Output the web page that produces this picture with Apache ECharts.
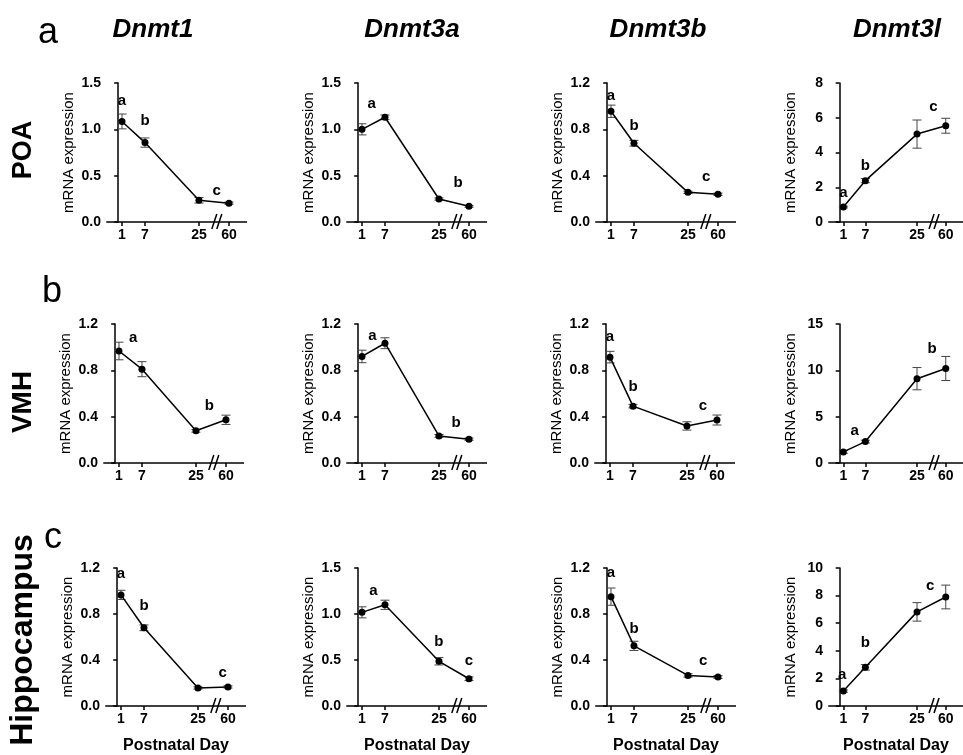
<!DOCTYPE html>
<html>
<head>
<meta charset="utf-8">
<script src="https://cdn.jsdelivr.net/npm/echarts@6/dist/echarts.min.js"></script>
<style>
  html, body { margin: 0; padding: 0; background: #fff; }
  #chart { width: 963px; height: 755px; }
</style>
</head>
<body>
<div id="chart"></div>
<script>
// postnatal days and panel labels
const days = [1, 7, 25, 60];
const genes = ['Dnmt1', 'Dnmt3a', 'Dnmt3b', 'Dnmt3l'];
const regions = ['POA', 'VMH', 'Hippocampus'];
const panelTags = ['a', 'b', 'c'];

// y axis max / step, one row per region
const yMax = [[1.5, 1.5, 1.2, 8], [1.2, 1.2, 1.2, 15], [1.2, 1.5, 1.2, 10]];
const yStep = [[0.5, 0.5, 0.4, 2], [0.4, 0.4, 0.4, 5], [0.4, 0.5, 0.4, 2]];

// mean mRNA expression (per gene, per day)
const poaMean = [[1.085, 0.857, 0.235, 0.203], [1.0, 1.13, 0.248, 0.169], [0.956, 0.68, 0.256, 0.239], [0.86, 2.38, 5.06, 5.54]];
const vmhMean = [[0.967, 0.81, 0.278, 0.373], [0.92, 1.034, 0.234, 0.206], [0.914, 0.491, 0.32, 0.371], [1.2, 2.31, 9.1, 10.2]];
const hipMean = [[0.966, 0.68, 0.157, 0.166], [1.018, 1.10, 0.486, 0.296], [0.951, 0.523, 0.266, 0.252], [1.08, 2.8, 6.82, 7.9]];

// SEM
const poaSem = [[0.08, 0.05, 0.03, 0.012], [0.06, 0.025, 0.012, 0.01], [0.053, 0.025, 0.01, 0.01], [0.05, 0.12, 0.81, 0.43]];
const vmhSem = [[0.076, 0.065, 0.012, 0.04], [0.054, 0.047, 0.012, 0.01], [0.05, 0.015, 0.036, 0.043], [0.15, 0.15, 1.2, 1.3]];
const hipSem = [[0.04, 0.025, 0.01, 0.01], [0.06, 0.05, 0.04, 0.02], [0.075, 0.04, 0.015, 0.012], [0.08, 0.2, 0.67, 0.86]];

// significance letters: [letter, day, value]
const poaSig = [
  [['a', 1, 1.31], ['b', 7, 1.09], ['c', 41, 0.34]],
  [['a', 3.5, 1.27], ['b', 44, 0.42]],
  [['a', 1, 1.09], ['b', 7, 0.83], ['c', 42, 0.39]],
  [['a', 1, 1.67], ['b', 7, 3.23], ['c', 40, 6.63]]
];
const vmhSig = [
  [['a', 4.7, 1.08], ['b', 32, 0.49]],
  [['a', 3.7, 1.1], ['b', 40, 0.35]],
  [['a', 1, 1.086], ['b', 7, 0.657], ['c', 37.5, 0.49]],
  [['a', 4.1, 3.5], ['b', 37, 12.3]]
];
const hipSig = [
  [['a', 1, 1.15], ['b', 7, 0.87], ['c', 56, 0.29]],
  [['a', 4, 1.25], ['b', 25, 0.70], ['c', 60, 0.49]],
  [['a', 1, 1.16], ['b', 7, 0.67], ['c', 36, 0.39]],
  [['a', 0.7, 2.27], ['b', 7, 4.55], ['c', 33, 8.73]]
];

const means = [poaMean, vmhMean, hipMean];
const sems = [poaSem, vmhSem, hipSem];
const sigs = [poaSig, vmhSig, hipSig];

const FONT = '"Liberation Sans", Arial, sans-serif';
const colLeft = [[107, 347, 596, 829], [104, 347, 595, 829], [106, 347, 596, 829]];
const rowTop = [83, 324, 568];
const gridW = 140, gridH = 139;
const xMin = -2.91, xMax = 64.7;
// visible break (25 -> 60) and a hidden squeeze between 7 and 25, as in the original axis
const squeeze = { start: 12, end: 18, gap: '5.7%' };
const cut = { start: 28, end: 59, gap: '10.5%' };

const chart = echarts.init(document.getElementById('chart'));

const grids = [], xAxes = [], yAxes = [], series = [];

regions.forEach((region, r) => {
  genes.forEach((gene, c) => {
    const i = r * 4 + c;
    grids.push({ left: colLeft[r][c], top: rowTop[r], width: gridW, height: gridH });
    xAxes.push({
      type: 'value', gridIndex: i, min: xMin, max: xMax,
      breaks: [squeeze, cut],
      breakArea: { show: false, itemStyle: { color: 'rgba(0,0,0,0)', borderColor: 'rgba(0,0,0,0)' } },
      axisLine: { show: false },
      axisTick: { show: true, customValues: days, length: 4, lineStyle: { color: '#000', width: 1.5 } },
      axisLabel: { customValues: days, color: '#000', fontWeight: 'bold', fontSize: 14, fontFamily: FONT, margin: 6 },
      splitLine: { show: false },
      name: r === 2 ? 'Postnatal Day' : '',
      nameLocation: 'middle', nameGap: 32,
      nameTextStyle: { color: '#000', fontWeight: 'bold', fontSize: 16, fontFamily: FONT }
    });
    const step = yStep[r][c];
    yAxes.push({
      type: 'value', gridIndex: i, min: 0, max: yMax[r][c], interval: step,
      axisLine: { show: true, lineStyle: { color: '#000', width: 1.5 } },
      axisTick: { show: true, length: 4, lineStyle: { color: '#000', width: 1.5 } },
      axisLabel: {
        color: '#000', fontWeight: 'bold', fontSize: 14, fontFamily: FONT, margin: 6,
        formatter: v => step < 1 ? v.toFixed(1) : String(v)
      },
      splitLine: { show: false },
      name: 'mRNA expression', nameLocation: 'middle', nameGap: 31,
      nameTextStyle: { color: '#000', fontSize: 15, fontFamily: FONT }
    });

    // x baseline, drawn unbroken across the squeeze
    series.push({
      type: 'custom', xAxisIndex: i, yAxisIndex: i, clip: false, z: 2, silent: true,
      data: [[xMin, xMax]],
      renderItem: (params, api) => {
        const a = api.coord([api.value(0), 0]);
        const b = api.coord([api.value(1), 0]);
        return { type: 'line', shape: { x1: a[0] - 0.75, y1: a[1], x2: b[0], y2: b[1] }, style: { stroke: '#000', lineWidth: 1.5 } };
      }
    });

    const m = means[r][c], s = sems[r][c];
    // error bars
    series.push({
      type: 'custom', xAxisIndex: i, yAxisIndex: i, clip: false, z: 3,
      data: days.map((d, k) => [d, m[k] - s[k], m[k] + s[k]]),
      encode: { x: 0, y: [1, 2] },
      renderItem: (params, api) => {
        const lo = api.coord([api.value(0), api.value(1)]);
        const hi = api.coord([api.value(0), api.value(2)]);
        const w = 4.5;
        const st = { stroke: '#444', lineWidth: 1 };
        return {
          type: 'group', children: [
            { type: 'line', shape: { x1: lo[0], y1: lo[1], x2: hi[0], y2: hi[1] }, style: st },
            { type: 'line', shape: { x1: lo[0] - w, y1: lo[1], x2: lo[0] + w, y2: lo[1] }, style: st },
            { type: 'line', shape: { x1: hi[0] - w, y1: hi[1], x2: hi[0] + w, y2: hi[1] }, style: st }
          ]
        };
      }
    });
    // mean line
    series.push({
      type: 'line', xAxisIndex: i, yAxisIndex: i, z: 4,
      data: days.map((d, k) => [d, m[k]]),
      symbol: 'circle', symbolSize: 7,
      itemStyle: { color: '#000' },
      lineStyle: { color: '#000', width: 1.5 },
      animation: false
    });
    // significance letters
    const sig = sigs[r][c];
    series.push({
      type: 'custom', xAxisIndex: i, yAxisIndex: i, clip: false, z: 5,
      data: sig.map(t => [t[1], t[2]]),
      renderItem: (params, api) => {
        const p = api.coord([api.value(0), api.value(1)]);
        return {
          type: 'text', x: p[0], y: p[1],
          style: { text: sig[params.dataIndex][0], fill: '#000', font: 'bold 15px ' + FONT, align: 'center', verticalAlign: 'middle' }
        };
      }
    });
    // axis break mark "//"
    series.push({
      type: 'custom', xAxisIndex: i, yAxisIndex: i, clip: false, z: 6,
      data: [[(cut.start + cut.end) / 2, 0]],
      renderItem: (params, api) => {
        const p = api.coord([api.value(0), api.value(1)]);
        const st = { stroke: '#000', lineWidth: 1.5 };
        return {
          type: 'group', children: [
            { type: 'line', shape: { x1: p[0] - 6, y1: p[1] + 7, x2: p[0] - 1, y2: p[1] - 8 }, style: st },
            { type: 'line', shape: { x1: p[0] - 1, y1: p[1] + 7, x2: p[0] + 4, y2: p[1] - 8 }, style: st }
          ]
        };
      }
    });
  });
});

const geneX = [153, 412, 658, 897];
const tagPos = [[48, 33], [52, 292], [53, 538]];
const regionPos = [[24, 150, 27], [23, 402, 28], [23, 640, 32]];

const graphics = [];
genes.forEach((g, c) => graphics.push({
  type: 'text', x: geneX[c], y: 30,
  style: { text: g, fill: '#000', font: 'italic bold 26px ' + FONT, align: 'center', verticalAlign: 'middle' }
}));
panelTags.forEach((t, r) => graphics.push({
  type: 'text', x: tagPos[r][0], y: tagPos[r][1],
  style: { text: t, fill: '#000', font: '36px ' + FONT, align: 'center', verticalAlign: 'middle' }
}));
regions.forEach((t, r) => graphics.push({
  type: 'text', x: regionPos[r][0], y: regionPos[r][1], rotation: Math.PI / 2,
  style: { text: t, fill: '#000', font: 'bold ' + regionPos[r][2] + 'px ' + FONT, align: 'center', verticalAlign: 'middle' }
}));

chart.setOption({
  backgroundColor: '#fff',
  animation: false,
  grid: grids,
  xAxis: xAxes,
  yAxis: yAxes,
  series: series,
  graphic: graphics
});

window.addEventListener('resize', () => chart.resize());
</script>
</body>
</html>
